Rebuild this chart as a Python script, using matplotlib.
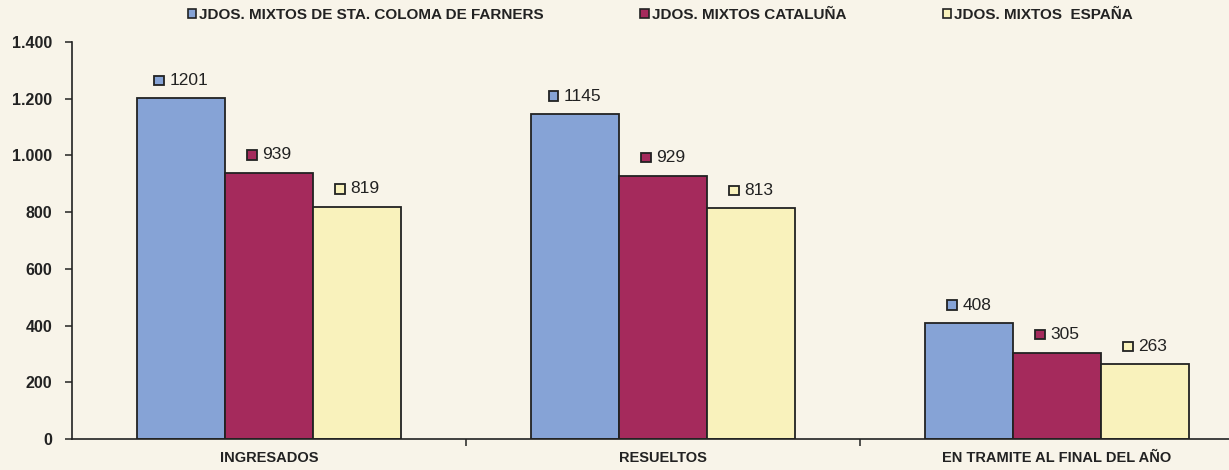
import matplotlib
matplotlib.use('Agg')
import matplotlib.pyplot as plt
from matplotlib.patches import Rectangle
from matplotlib.offsetbox import AnnotationBbox, DrawingArea, HPacker, TextArea
from matplotlib.ticker import FuncFormatter, FixedLocator

plt.rcParams['font.family'] = ['Liberation Sans', 'DejaVu Sans']

# asuntos por tipo y ambito
categorias = ['INGRESADOS', 'RESUELTOS', 'EN TRAMITE AL FINAL DEL AÑO']
series = ['JDOS. MIXTOS DE STA. COLOMA DE FARNERS',
          'JDOS. MIXTOS CATALUÑA',
          'JDOS. MIXTOS  ESPAÑA']
sta_coloma = [1201, 1145, 408]
cataluna = [939, 929, 305]
espana = [819, 813, 263]

colores = ['#86a3d6', '#a52a5c', '#f9f2bc']
fondo = '#f8f4e9'
oscuro = '#222222'

W, H = 1229, 470
fig = plt.figure(figsize=(W / 100, H / 100), dpi=100, facecolor=fondo)
ax = fig.add_axes([72 / W, 1 - 439 / H, 1 - 72 / W, (439 - 42) / H])
ax.set_facecolor(fondo)

ancho = 0.2234
valores = [sta_coloma, cataluna, espana]
for k, (vals, col) in enumerate(zip(valores, colores)):
    xs = [i + (k - 1) * ancho for i in range(len(categorias))]
    ax.bar(xs, vals, width=ancho, color=col, edgecolor=oscuro, linewidth=1.3, zorder=2)
    for x, v in zip(xs, vals):
        da = DrawingArea(7, 7)
        da.add_artist(Rectangle((0, 0), 7, 7, facecolor=col, edgecolor=oscuro, lw=1.3))
        ta = TextArea(str(v), textprops=dict(size=12.5, color=oscuro))
        caja = HPacker(children=[da, ta], align='center', pad=0, sep=4)
        ab = AnnotationBbox(caja, (x, v), xybox=(0, 13), xycoords='data',
                            boxcoords='offset points', frameon=False,
                            box_alignment=(0.5, 0.5))
        ax.add_artist(ab)

ax.set_ylim(0, 1400)
ax.set_xlim(-0.5, -0.5 + (W - 72) / 394)
ax.set_yticks(range(0, 1401, 200))
ax.yaxis.set_major_formatter(FuncFormatter(lambda v, p: f'{int(v):,}'.replace(',', '.')))
ax.tick_params(axis='y', direction='out', length=5, width=1.1, color=oscuro,
               pad=9, labelsize=11.5, labelcolor=oscuro)
for t in ax.get_yticklabels():
    t.set_fontweight('bold')

# marcas entre categorias, etiquetas centradas
ax.xaxis.set_major_locator(FixedLocator([0.5, 1.5]))
ax.xaxis.set_major_formatter(FuncFormatter(lambda v, p: ''))
ax.xaxis.set_minor_locator(FixedLocator(range(len(categorias))))
ax.set_xticklabels(categorias, minor=True, fontsize=10.5, fontweight='bold', color=oscuro)
ax.tick_params(axis='x', which='major', direction='out', length=5, width=1.1, color=oscuro)
ax.tick_params(axis='x', which='minor', length=0, pad=9)

for s in ['top', 'right']:
    ax.spines[s].set_visible(False)
for s in ['left', 'bottom']:
    ax.spines[s].set_color(oscuro)
    ax.spines[s].set_linewidth(1.2)

handles = [Rectangle((0, 0), 1, 1, facecolor=c, edgecolor=oscuro, lw=1.2) for c in colores]
fig.legend(handles, series, loc='center left', bbox_to_anchor=(188 / W, 1 - 15 / H),
           ncol=3, frameon=False, handlelength=0.55, handleheight=0.55,
           handletextpad=0.2, columnspacing=6.3, borderpad=0, borderaxespad=0,
           prop=dict(weight='bold', size=11), labelcolor=oscuro)

fig.savefig('out.png', dpi=100, facecolor=fondo)
